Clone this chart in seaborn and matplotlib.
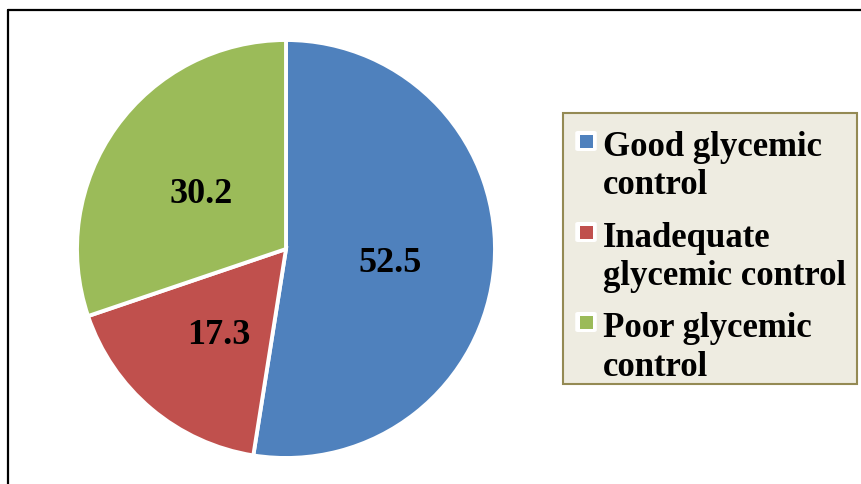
import matplotlib
matplotlib.use("Agg")
import matplotlib.pyplot as plt
from matplotlib.patches import Rectangle, FancyBboxPatch
from matplotlib.lines import Line2D
import numpy as np
import seaborn as sns

# Glycemic control categories and their shares (%)
categories = ["Good glycemic\ncontrol", "Inadequate\nglycemic control", "Poor glycemic\ncontrol"]
shares = [52.5, 17.3, 30.2]
value_labels = ["52.5", "17.3", "30.2"]
colors = ["#4F81BD", "#C0504D", "#9BBB59"]

sns.set_theme(style="white")
plt.rcParams["font.family"] = ["Liberation Serif", "DejaVu Serif"]

W, H = 861, 485
fig = plt.figure(figsize=(W / 100, H / 100), dpi=100)
fig.patch.set_facecolor("white")


def fx(x):
    return x / W


def fy(y):
    return 1 - y / H


# Pie axes: centre (286, 250) px, radius 209 px
cx, cy, r = 286, 250, 209
ax = fig.add_axes([fx(cx - r), fy(cy + r), 2 * r / W, 2 * r / H])
wedges, _ = ax.pie(
    shares,
    colors=colors,
    startangle=90,
    counterclock=False,
    wedgeprops=dict(edgecolor="white", linewidth=2.8),
)
ax.set_xlim(-1, 1)
ax.set_ylim(-1, 1)
ax.set_aspect("equal")
ax.axis("off")

# Value labels inside the slices
for w, txt in zip(wedges, value_labels):
    ang = np.deg2rad((w.theta1 + w.theta2) / 2)
    ax.text(0.5 * np.cos(ang), 0.5 * np.sin(ang) - 0.025, txt, ha="center", va="center",
            fontsize=26, fontweight="bold", color="black")

# Chart frame (top and left edges visible)
fig.add_artist(Line2D([fx(8), fx(W + 5)], [fy(11), fy(11)], color="black", linewidth=1.6,
                      transform=fig.transFigure))
fig.add_artist(Line2D([fx(8), fx(8)], [fy(11), fy(H + 5)], color="black", linewidth=1.6,
                      transform=fig.transFigure))

# Legend box
lx0, ly0, lx1, ly1 = 563, 114, 857, 385
fig.add_artist(Rectangle((fx(lx0), fy(ly1)), fx(lx1 - lx0), (ly1 - ly0) / H,
                         facecolor="#EEECE1", edgecolor="#948A54", linewidth=1.5,
                         transform=fig.transFigure))

marker_centers = [142, 233, 323]
for label, col, my in zip(categories, colors, marker_centers):
    # white rounded backing square with coloured swatch
    fig.add_artist(FancyBboxPatch((fx(578), fy(my + 8)), fx(16), 16 / H,
                                  boxstyle="round,pad=0.002", facecolor="white",
                                  edgecolor="white", linewidth=1.5,
                                  transform=fig.transFigure))
    fig.add_artist(Rectangle((fx(580), fy(my + 6.5)), fx(13), 13 / H,
                             facecolor=col, edgecolor="none",
                             transform=fig.transFigure))
    fig.text(fx(603), fy(my - 11), label, ha="left", va="top",
             fontsize=25, fontweight="bold", color="black", linespacing=1.22)

fig.savefig("out.png", dpi=100, facecolor="white")
